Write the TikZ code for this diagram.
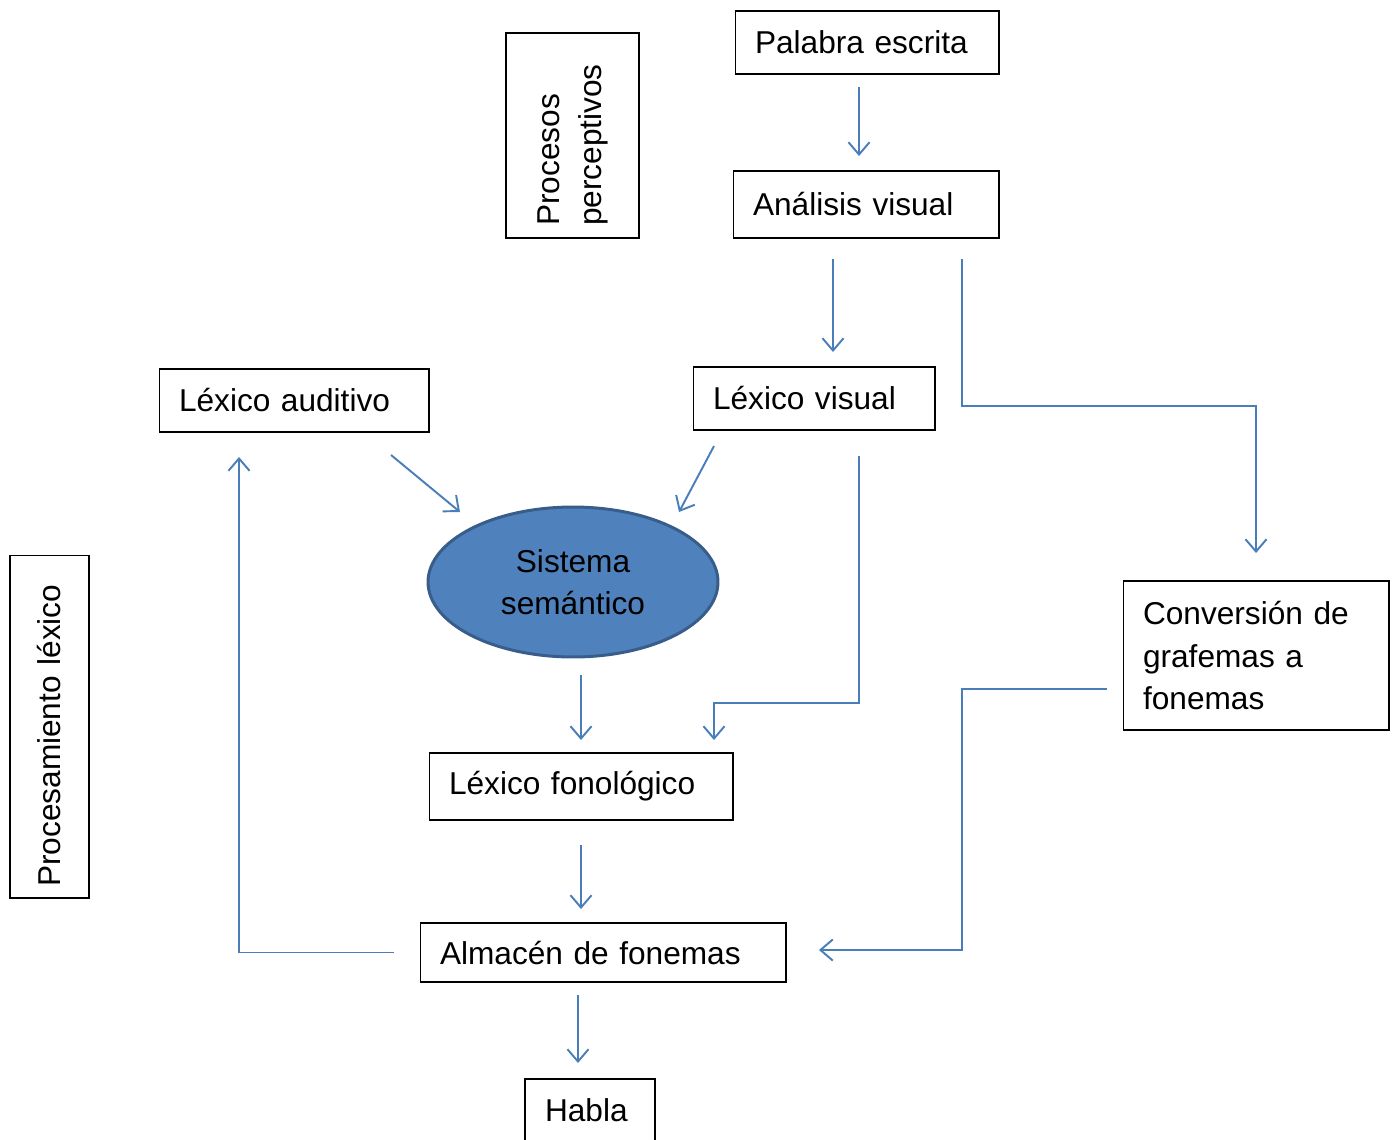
\documentclass[tikz,border=0pt]{standalone}
\usepackage{fontspec}
\setmainfont{Liberation Sans}
\usetikzlibrary{arrows.meta,shapes.geometric,calc}
\definecolor{flecha}{RGB}{74,126,187}
\definecolor{relleno}{RGB}{79,129,189}
\definecolor{borde}{RGB}{56,93,138}

\begin{document}
\begin{tikzpicture}[x=0.02cm,y=-0.02cm,>={Straight Barb[length=7pt,width=12pt]},font=\fontsize{18}{24}\selectfont]
  \tikzstyle{caja}=[draw=black,line width=0.6pt,align=left,inner xsep=0.4cm,inner ysep=0pt,outer sep=0pt]
  \tikzstyle{flujo}=[->,draw=flecha,line width=1.1pt]
  \useasboundingbox (0,0) rectangle (1398,1139);

  \node[caja,text width=4.48cm,minimum height=1.26cm] (palabra)    at (867,42.5)  {Palabra escrita};
  \node[caja,text width=4.52cm,minimum height=1.34cm] (analisis)   at (866,204.5) {Análisis visual};
  \node[caja,rotate=90,inner xsep=0.24cm,text width=3.62cm,minimum height=2.66cm] (perceptivos) at (572.5,135.5) {Procesos\\perceptivos};
  \node[caja,text width=4.6cm,minimum height=1.26cm]  (lexaud)     at (294,400.5) {Léxico auditivo};
  \node[caja,text width=4.04cm,minimum height=1.26cm] (lexvis)     at (814,398.5) {Léxico visual};
  \node[ellipse,draw=borde,fill=relleno,line width=1.7pt,minimum width=5.8cm,minimum height=3cm,inner sep=0pt,outer sep=0pt,align=center] (semantico) at (573,582) {Sistema\\semántico};
  \node[caja,rotate=90,inner xsep=0.22cm,text width=6.42cm,minimum height=1.58cm] (lexico) at (49.5,726.5) {Procesamiento léxico};
  \node[caja,text width=4.52cm,minimum height=2.98cm] (conversion) at (1256,655.5) {Conversión de\\grafemas a\\fonemas};
  \node[caja,text width=5.28cm,minimum height=1.34cm] (lexfon)     at (581,786.5) {Léxico fonológico};
  \node[caja,text width=6.52cm,minimum height=1.18cm] (almacen)    at (603,952.5) {Almacén de fonemas};
  \node[caja,text width=1.8cm,minimum height=1.24cm]  (habla)      at (590,1110)  {Habla};

  \draw[flujo] ($(palabra.south)+(-8,13)$) -- ($(analisis.north)+(-7,-15)$);
  \draw[flujo] ($(analisis.south)+(-33,21)$) -- ($(lexvis.north)+(19,-15)$);
  \draw[flujo] ($(analisis.south)+(96,21)$) -- ++(0,147) -| ($(conversion.north)+(0,-28)$);
  \draw[flujo] ($(lexaud.south)+(97,23)$) -- ($(semantico.center)+(-113,-70)$);
  \draw[flujo] ($(lexvis.south)+(-100,16)$) -- ($(semantico.center)+(106,-70)$);
  \draw[flujo] ($(lexvis.south)+(45,26)$) -- ++(0,247) -| ($(lexfon.north)+(133,-13)$);
  \draw[flujo] ($(semantico.south)+(8,18)$) -- ($(lexfon.north)+(0,-13)$);
  \draw[flujo] ($(lexfon.south)+(0,25)$) -- ($(almacen.north)+(-22,-14)$);
  \draw[flujo] ($(conversion.west)+(-16,33.5)$) -- ++(-145,0) |- ($(almacen.east)+(33,-2.5)$);
  \draw[flujo] ($(almacen.west)+(-26,0)$) -| ($(lexaud.south)+(-55,25)$);
  \draw[flujo] ($(almacen.south)+(-25,13)$) -- ($(habla.north)+(-12,-16)$);
\end{tikzpicture}
\end{document}
